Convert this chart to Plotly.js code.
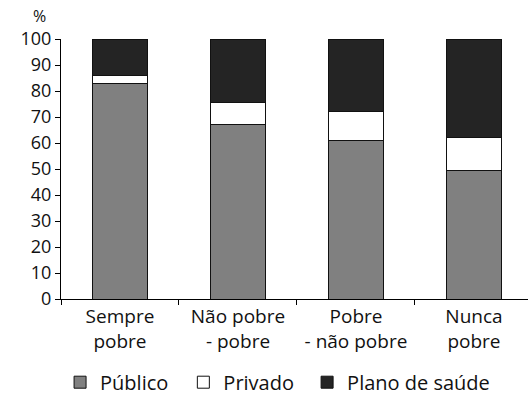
<!DOCTYPE html>
<html><head><meta charset="utf-8">
<script src="https://cdn.plot.ly/plotly-3.0.1.min.js"></script>
<style>html,body{margin:0;padding:0;background:#fff}#c{width:528px;height:402px}</style>
</head><body><div id="c"></div>
<script>
const categories = ["Sempre<br>pobre", "Não pobre<br>- pobre", "Pobre<br>- não pobre", "Nunca<br>pobre"];
const publico = [83, 67, 61, 49.5];
const privado = [3, 8.5, 11, 12.5];
const plano = [14, 24.5, 28, 38];
const seriesNames = ["Público", "Privado", "Plano de saúde"];
const yTicks = [0, 10, 20, 30, 40, 50, 60, 70, 80, 90, 100];

const font = "'Open Sans', sans-serif";
const colors = ["#808080", "#ffffff", "#242424"];
const legendIds = ["legend", "legend2", "legend3"];
const legendX = [-0.002, 0.262, 0.527];
const vals = [publico, privado, plano];
const traces = vals.map((v, i) => ({
  type: "bar", x: categories, y: v, name: seriesNames[i],
  width: 0.46, legend: legendIds[i],
  marker: {color: colors[i], line: {color: "#111", width: 1}}
}));

const layout = {
  width: 528, height: 402, barmode: "stack",
  margin: {l: 61, r: 0, t: 39, b: 101},
  paper_bgcolor: "#fff", plot_bgcolor: "#fff",
  font: {family: font, size: 19, color: "#111"},
  showlegend: true,
  xaxis: {range: [-0.5, 3.458], showline: true, linecolor: "#000", linewidth: 1,
          ticks: "outside", tickson: "boundaries", ticklen: 5, tickcolor: "#000",
          tickfont: {size: 19}, showgrid: false, zeroline: false, fixedrange: true},
  yaxis: {range: [0, 100], tickvals: yTicks, showline: true, linecolor: "#000", linewidth: 1,
          ticks: "outside", ticklen: 5, tickcolor: "#000", tickfont: {size: 18},
          showgrid: false, zeroline: false, fixedrange: true},
  annotations: [{text: "%", xref: "paper", yref: "paper", x: -0.045, y: 1.0,
                 xanchor: "center", yanchor: "bottom", yshift: 11, showarrow: false,
                 font: {size: 16}, borderpad: 0}]
};
legendIds.forEach((id, i) => {
  layout[id] = {orientation: "h", x: legendX[i], xanchor: "left", y: -0.32, yanchor: "middle",
                font: {size: 20}, itemwidth: 30, bgcolor: "rgba(0,0,0,0)"};
});

Plotly.newPlot("c", traces, layout, {displayModeBar: false, staticPlot: true});
</script></body></html>
